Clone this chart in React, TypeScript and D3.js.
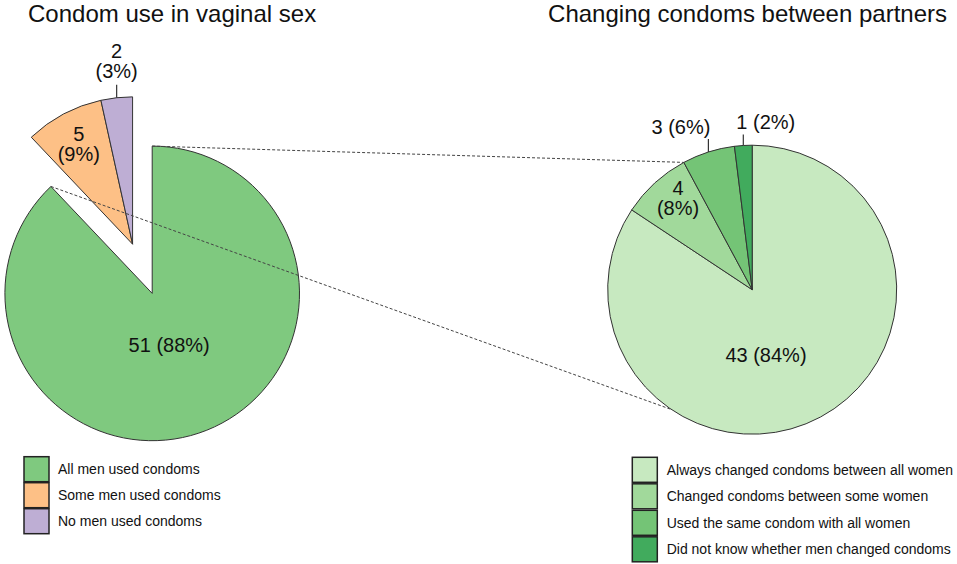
import React from "react";
import * as d3 from "d3";

// left pie: condom use in vaginal sex
const leftTitle = "Condom use in vaginal sex";
const leftCategories = ["All men used condoms", "Some men used condoms", "No men used condoms"];
const leftValues = [51, 5, 2];
const leftColors = ["#7fc97f", "#fdc086", "#beaed4"];

// right pie: changing condoms between partners
const rightTitle = "Changing condoms between partners";
const rightCategories = [
  "Always changed condoms between all women",
  "Changed condoms between some women",
  "Used the same condom with all women",
  "Did not know whether men changed condoms",
];
const rightValues = [43, 4, 3, 1];
const rightColors = ["#c7e9c0", "#a1d99b", "#74c476", "#41ab5d"];

// label placement (layout only)
type LabelSpec =
  | { kind: "in"; shift: number; dist: number; split: boolean }
  | { kind: "out"; leader: number; anchor: "start" | "middle" | "end"; dx: number; gap: number; split: boolean };

const leftLabels: LabelSpec[] = [
  { kind: "in", shift: 3.4, dist: 0.367, split: false },
  { kind: "in", shift: -0.8, dist: 0.76, split: true },
  { kind: "out", leader: 13, anchor: "middle", dx: 0, gap: 7, split: true },
];
const rightLabels: LabelSpec[] = [
  { kind: "in", shift: 16.4, dist: 0.465, split: false },
  { kind: "in", shift: 2.6, dist: 0.803, split: true },
  { kind: "out", leader: 13, anchor: "end", dx: 2, gap: 5, split: false },
  { kind: "out", leader: 11, anchor: "start", dx: -7, gap: 5, split: false },
];

const FONT = "'Liberation Sans', Arial, Helvetica, sans-serif";
const deg = Math.PI / 180;
const polar = (a: number, r: number): [number, number] => [r * Math.sin(a), -r * Math.cos(a)];

const Label: React.FC<{
  spec: LabelSpec;
  mid: number;
  r: number;
  text1: string;
  text2: string;
}> = ({ spec, mid, r, text1, text2 }) => {
  const fs = 20;
  if (spec.kind === "in") {
    const [x, y] = polar(mid + spec.shift * deg, r * spec.dist);
    if (spec.split) {
      return (
        <g fontSize={fs} textAnchor="middle" fill="#111">
          <text x={x} y={y - 5}>{text1}</text>
          <text x={x} y={y + 15}>{text2}</text>
        </g>
      );
    }
    return (
      <text x={x} y={y + 7} fontSize={fs} textAnchor="middle" fill="#111">
        {text1} {text2}
      </text>
    );
  }
  const [ex, ey] = polar(mid, r);
  const top = ey - spec.leader;
  const base = top - spec.gap;
  return (
    <g>
      <line x1={ex} y1={ey} x2={ex} y2={top} stroke="#333" strokeWidth={1.2} />
      {spec.split ? (
        <g fontSize={fs} textAnchor={spec.anchor} fill="#111">
          <text x={ex + spec.dx} y={base - 20}>{text1}</text>
          <text x={ex + spec.dx} y={base}>{text2}</text>
        </g>
      ) : (
        <text x={ex + spec.dx} y={base} fontSize={fs} textAnchor={spec.anchor} fill="#111">
          {text1} {text2}
        </text>
      )}
    </g>
  );
};

const App: React.FC = () => {
  const width = 957;
  const height = 564;

  const leftC: [number, number] = [152.2, 293.4];
  const leftR = 147.3;
  const explode = 53;
  const rightC: [number, number] = [752.2, 289.7];
  const rightR = 144.5;

  const pie = d3
    .pie<number>()
    .sort(null)
    .value((d) => d)
    .startAngle(0)
    .endAngle(2 * Math.PI);

  const leftArcs = pie(leftValues);
  const rightArcs = pie(rightValues);
  const leftTotal = d3.sum(leftValues);
  const rightTotal = d3.sum(rightValues);

  const arcL = d3.arc<d3.PieArcDatum<number>>().innerRadius(0).outerRadius(leftR);
  const arcR = d3.arc<d3.PieArcDatum<number>>().innerRadius(0).outerRadius(rightR);

  // exploded group = every slice after the first
  const groupMid = (leftArcs[1].startAngle + 2 * Math.PI) / 2;
  const [ox, oy] = polar(groupMid, explode);

  const pct = (v: number, t: number) => `(${Math.round((v / t) * 100)}%)`;

  // connector lines
  const a1 = polar(0, leftR);
  const a2 = polar(rightArcs[1].endAngle, rightR);
  const b1 = polar(leftArcs[0].endAngle, leftR);
  const b2 = polar(214 * deg, rightR);

  return (
    <svg
      width={width}
      height={height}
      style={{ position: "absolute", left: 0, top: 0, background: "#fff" }}
      fontFamily={FONT}
    >
      {/* titles */}
      <text x={28} y={22} fontSize={24} fill="#111">
        {leftTitle}
      </text>
      <text x={947} y={22} fontSize={24} textAnchor="end" fill="#111">
        {rightTitle}
      </text>

      {/* left pie */}
      <g transform={`translate(${leftC[0]},${leftC[1]})`}>
        {leftArcs.map((a, i) => (
          <g key={i} transform={i > 0 ? `translate(${ox},${oy})` : undefined}>
            <path d={arcL(a)!} fill={leftColors[i]} stroke="#333" strokeWidth={1} />
          </g>
        ))}
        {leftArcs.map((a, i) => (
          <g key={i} transform={i > 0 ? `translate(${ox},${oy})` : undefined}>
            <Label
              spec={leftLabels[i]}
              mid={(a.startAngle + a.endAngle) / 2}
              r={leftR}
              text1={String(leftValues[i])}
              text2={pct(leftValues[i], leftTotal)}
            />
          </g>
        ))}
      </g>

      {/* right pie */}
      <g transform={`translate(${rightC[0]},${rightC[1]})`}>
        {rightArcs.map((a, i) => (
          <path key={i} d={arcR(a)!} fill={rightColors[i]} stroke="#333" strokeWidth={1} />
        ))}
        {rightArcs.map((a, i) => (
          <Label
            key={i}
            spec={rightLabels[i]}
            mid={(a.startAngle + a.endAngle) / 2}
            r={rightR}
            text1={String(rightValues[i])}
            text2={pct(rightValues[i], rightTotal)}
          />
        ))}
      </g>

      {/* dashed connectors */}
      <g stroke="#444" strokeWidth={1} strokeDasharray="3,2" fill="none">
        <line x1={leftC[0] + a1[0]} y1={leftC[1] + a1[1]} x2={rightC[0] + a2[0]} y2={rightC[1] + a2[1]} />
        <line x1={leftC[0] + b1[0]} y1={leftC[1] + b1[1]} x2={rightC[0] + b2[0]} y2={rightC[1] + b2[1]} />
      </g>

      {/* legends */}
      <g fontSize={14} fill="#111">
        {leftCategories.map((c, i) => (
          <g key={c} transform={`translate(24,${456.7 + i * 26})`}>
            <rect width={25} height={25} fill={leftColors[i]} stroke="#222" strokeWidth={1.5} />
            <text x={34} y={17.6}>
              {c}
            </text>
          </g>
        ))}
        {rightCategories.map((c, i) => (
          <g key={c} transform={`translate(632.3,${457.3 + i * 26.5})`}>
            <rect width={25} height={25} fill={rightColors[i]} stroke="#222" strokeWidth={1.5} />
            <text x={34.4} y={17.6}>
              {c}
            </text>
          </g>
        ))}
      </g>
    </svg>
  );
};

export default App;
